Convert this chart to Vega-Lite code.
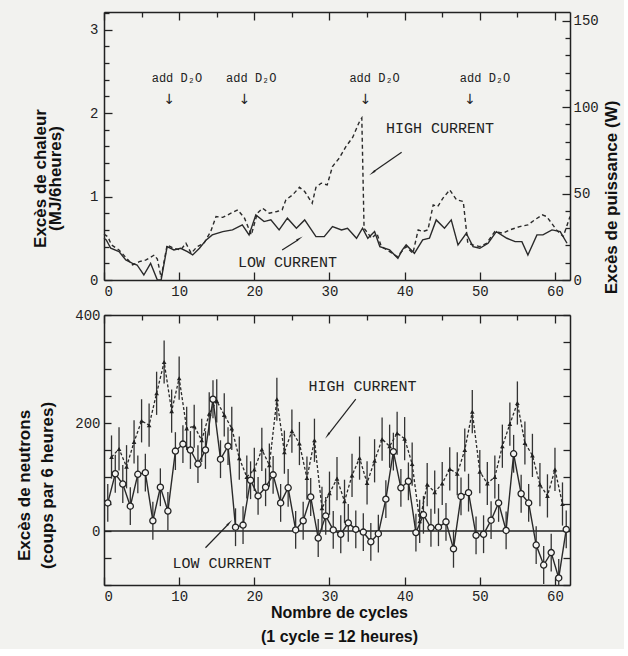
{
  "$schema": "https://vega.github.io/schema/vega-lite/v6.json",
  "background": "#f2f2ef",
  "padding": {"left": 15, "top": 11, "right": 5, "bottom": 5},
  "config": {
    "view": {"stroke": null},
    "axis": {
      "domainColor": "#222", "domainWidth": 1.5, "tickColor": "#222", "tickWidth": 1.3,
      "labelFont": "Liberation Mono", "labelFontSize": 14, "labelColor": "#222", "labelOverlap": false,
      "titleFont": "Liberation Sans", "titleFontSize": 17, "titleFontWeight": "bold", "titleColor": "#111",
      "grid": false
    }
  },
  "datasets": {
    "heatHigh": [
      {"c":0,"v":0.55},{"c":0.5,"v":0.52},{"c":1,"v":0.42},{"c":2,"v":0.36},{"c":3,"v":0.26},{"c":3.8,"v":0.18},{"c":4.7,"v":0.22},{"c":5.6,"v":0.24},{"c":6.7,"v":0.3},{"c":7.1,"v":0.25},{"c":7.6,"v":0.03},{"c":8.4,"v":0.42},{"c":9.3,"v":0.38},{"c":10.2,"v":0.36},{"c":10.9,"v":0.44},{"c":11.6,"v":0.32},{"c":12.4,"v":0.4},{"c":13.3,"v":0.44},{"c":14.2,"v":0.58},{"c":14.9,"v":0.76},{"c":15.8,"v":0.75},{"c":16.9,"v":0.8},{"c":17.8,"v":0.84},{"c":18.7,"v":0.74},{"c":19.6,"v":0.54},{"c":20.4,"v":0.8},{"c":21.1,"v":0.86},{"c":22,"v":0.8},{"c":23,"v":0.82},{"c":23.7,"v":0.84},{"c":24.2,"v":0.96},{"c":25.1,"v":1.02},{"c":26,"v":1.11},{"c":26.7,"v":1.06},{"c":27.7,"v":0.92},{"c":28.2,"v":1.11},{"c":28.9,"v":1.16},{"c":29.7,"v":1.14},{"c":30.4,"v":1.36},{"c":31.3,"v":1.46},{"c":32.2,"v":1.6},{"c":33.1,"v":1.71},{"c":34,"v":1.9},{"c":34.3,"v":1.94},{"c":34.6,"v":0.62},{"c":35.6,"v":0.5},{"c":36.3,"v":0.56},{"c":36.9,"v":0.4},{"c":38,"v":0.34},{"c":39,"v":0.28},{"c":40.2,"v":0.4},{"c":41.1,"v":0.32},{"c":41.8,"v":0.6},{"c":42.4,"v":0.58},{"c":43.1,"v":0.6},{"c":43.8,"v":0.9},{"c":44.4,"v":0.88},{"c":45.1,"v":0.98},{"c":46,"v":1.08},{"c":46.9,"v":0.96},{"c":47.8,"v":0.94},{"c":48.4,"v":0.44},{"c":49.1,"v":0.42},{"c":50,"v":0.4},{"c":50.9,"v":0.44},{"c":52,"v":0.58},{"c":53.1,"v":0.56},{"c":54,"v":0.6},{"c":55.3,"v":0.64},{"c":56.4,"v":0.66},{"c":57.3,"v":0.72},{"c":58.3,"v":0.78},{"c":58.9,"v":0.76},{"c":60.2,"v":0.6},{"c":61.1,"v":0.52},{"c":62,"v":0.76}
    ],
    "heatLow": [
      {"c":0,"v":0.5},{"c":0.3,"v":0.48},{"c":0.9,"v":0.38},{"c":2,"v":0.34},{"c":2.9,"v":0.24},{"c":3.8,"v":0.2},{"c":4.4,"v":0.18},{"c":5.3,"v":0.06},{"c":6.2,"v":0.2},{"c":7.1,"v":0},{"c":7.6,"v":0},{"c":8.4,"v":0.4},{"c":9.3,"v":0.36},{"c":10.2,"v":0.38},{"c":11.1,"v":0.34},{"c":11.8,"v":0.3},{"c":12.7,"v":0.38},{"c":13.6,"v":0.48},{"c":14.4,"v":0.54},{"c":15.8,"v":0.58},{"c":17.1,"v":0.6},{"c":18.4,"v":0.66},{"c":19.3,"v":0.54},{"c":20.2,"v":0.78},{"c":21.3,"v":0.7},{"c":22.2,"v":0.72},{"c":23.3,"v":0.6},{"c":24.4,"v":0.74},{"c":25.6,"v":0.62},{"c":26.7,"v":0.72},{"c":28.2,"v":0.52},{"c":29.3,"v":0.52},{"c":30.4,"v":0.64},{"c":31.6,"v":0.6},{"c":32.4,"v":0.62},{"c":33.6,"v":0.5},{"c":34.4,"v":0.62},{"c":35.1,"v":0.5},{"c":36,"v":0.58},{"c":36.7,"v":0.4},{"c":38,"v":0.36},{"c":39.1,"v":0.26},{"c":39.7,"v":0.36},{"c":40.2,"v":0.42},{"c":41.3,"v":0.32},{"c":42.4,"v":0.48},{"c":43.3,"v":0.5},{"c":44.2,"v":0.72},{"c":45.3,"v":0.62},{"c":46.2,"v":0.72},{"c":47.1,"v":0.42},{"c":48.2,"v":0.56},{"c":49.1,"v":0.4},{"c":50,"v":0.38},{"c":51.1,"v":0.44},{"c":52.2,"v":0.58},{"c":53.6,"v":0.5},{"c":54.7,"v":0.46},{"c":55.6,"v":0.46},{"c":56.4,"v":0.3},{"c":57.6,"v":0.54},{"c":58.4,"v":0.54},{"c":59.6,"v":0.6},{"c":60.7,"v":0.58},{"c":61.6,"v":0.44}
    ],
    "neutLow": [
      {"c":0.5,"v":52,"e":35},{"c":1.5,"v":106,"e":35},{"c":2.5,"v":87,"e":35},{"c":3.5,"v":46,"e":35},{"c":4.5,"v":105,"e":35},{"c":5.5,"v":108,"e":35},{"c":6.5,"v":19,"e":35},{"c":7.5,"v":81,"e":35},{"c":8.5,"v":37,"e":35},{"c":9.5,"v":148,"e":35},{"c":10.5,"v":161,"e":35},{"c":11.5,"v":150,"e":35},{"c":12.5,"v":124,"e":35},{"c":13.5,"v":150,"e":35},{"c":14.5,"v":244,"e":35},{"c":15.5,"v":133,"e":35},{"c":16.5,"v":157,"e":35},{"c":17.5,"v":7,"e":35},{"c":18.5,"v":11,"e":35},{"c":19.5,"v":94,"e":35},{"c":20.5,"v":65,"e":35},{"c":21.5,"v":81,"e":35},{"c":22.5,"v":104,"e":35},{"c":23.5,"v":52,"e":35},{"c":24.5,"v":80,"e":35},{"c":25.5,"v":2,"e":35},{"c":26.5,"v":19,"e":35},{"c":27.5,"v":63,"e":35},{"c":28.5,"v":-13,"e":35},{"c":29.5,"v":28,"e":35},{"c":30.5,"v":2,"e":35},{"c":31.5,"v":-6,"e":35},{"c":32.5,"v":15,"e":35},{"c":33.5,"v":3,"e":35},{"c":34.5,"v":-2,"e":35},{"c":35.5,"v":-20,"e":35},{"c":36.5,"v":-5,"e":35},{"c":37.5,"v":59,"e":35},{"c":38.5,"v":147,"e":35},{"c":39.5,"v":80,"e":35},{"c":40.5,"v":92,"e":35},{"c":41.5,"v":-3,"e":35},{"c":42.5,"v":30,"e":35},{"c":43.5,"v":6,"e":35},{"c":44.5,"v":7,"e":35},{"c":45.5,"v":17,"e":35},{"c":46.5,"v":-33,"e":35},{"c":47.5,"v":64,"e":35},{"c":48.5,"v":71,"e":35},{"c":49.5,"v":-8,"e":35},{"c":50.5,"v":-6,"e":35},{"c":51.5,"v":20,"e":35},{"c":52.5,"v":52,"e":35},{"c":53.5,"v":1,"e":35},{"c":54.5,"v":143,"e":35},{"c":55.5,"v":69,"e":35},{"c":56.5,"v":52,"e":35},{"c":57.5,"v":-26,"e":35},{"c":58.5,"v":-63,"e":35},{"c":59.5,"v":-40,"e":35},{"c":60.5,"v":-87,"e":35},{"c":61.5,"v":3,"e":35}
    ],
    "neutHigh": [
      {"c":1,"v":137,"e":40},{"c":2,"v":152,"e":40},{"c":3,"v":119,"e":40},{"c":4,"v":165,"e":40},{"c":5,"v":204,"e":40},{"c":6,"v":196,"e":40},{"c":7,"v":255,"e":40},{"c":8,"v":313,"e":40},{"c":9,"v":222,"e":40},{"c":10,"v":283,"e":40},{"c":11,"v":190,"e":40},{"c":12,"v":194,"e":40},{"c":13,"v":168,"e":40},{"c":14,"v":217,"e":40},{"c":15,"v":241,"e":40},{"c":16,"v":215,"e":40},{"c":17,"v":190,"e":40},{"c":18,"v":135,"e":40},{"c":19,"v":100,"e":40},{"c":20,"v":114,"e":40},{"c":21,"v":151,"e":40},{"c":22,"v":122,"e":40},{"c":23,"v":244,"e":40},{"c":24,"v":146,"e":40},{"c":25,"v":185,"e":40},{"c":26,"v":162,"e":40},{"c":27,"v":98,"e":40},{"c":28,"v":168,"e":40},{"c":29,"v":42,"e":40},{"c":30,"v":70,"e":40},{"c":31,"v":97,"e":40},{"c":32,"v":55,"e":40},{"c":33,"v":103,"e":40},{"c":34,"v":135,"e":40},{"c":35,"v":89,"e":40},{"c":36,"v":130,"e":40},{"c":37,"v":170,"e":40},{"c":38,"v":157,"e":40},{"c":39,"v":181,"e":40},{"c":40,"v":171,"e":40},{"c":41,"v":124,"e":40},{"c":42,"v":18,"e":40},{"c":43,"v":86,"e":40},{"c":44,"v":72,"e":40},{"c":45,"v":88,"e":40},{"c":46,"v":115,"e":40},{"c":47,"v":106,"e":40},{"c":48,"v":150,"e":40},{"c":49,"v":221,"e":40},{"c":50,"v":110,"e":40},{"c":51,"v":88,"e":40},{"c":52,"v":100,"e":40},{"c":53,"v":157,"e":40},{"c":54,"v":198,"e":40},{"c":55,"v":237,"e":40},{"c":56,"v":163,"e":40},{"c":57,"v":140,"e":40},{"c":58,"v":86,"e":40},{"c":59,"v":65,"e":40},{"c":60,"v":114,"e":40},{"c":61,"v":50,"e":40}
    ]
  },
  "spacing": 10,
  "vconcat": [
    {
      "width": 466,
      "height": 268,
      "resolve": {"scale": {"y": "independent"}, "axis": {"x": "independent", "y": "independent"}},
      "layer": [
        {
          "layer": [
            {
              "data": {"name": "heatHigh"},
              "mark": {"type": "line", "color": "#2a2a2a", "strokeWidth": 1.4, "strokeDash": [4, 3]},
              "encoding": {
                "x": {"field": "c", "type": "quantitative", "scale": {"domain": [0, 62], "nice": false},
                  "axis": {"orient": "bottom", "title": null, "values": [0,5,10,15,20,25,30,35,40,45,50,55,60],
                    "labelExpr": "datum.value % 10 === 0 ? datum.label : ''", "labelOverlap": false,
                    "tickSize": {"condition": {"test": "datum.value % 10 === 0", "value": -8}, "value": -5},
                    "labelPadding": 12}},
                "y": {"field": "v", "type": "quantitative", "scale": {"domain": [0, 3.21], "nice": false, "zero": false},
                  "axis": {"orient": "left", "title": ["Excès de chaleur", "(MJ/6heures)"],
                    "values": [0, 1, 2, 3], "format": "d", "labelOverlap": false, "labelBound": false, "labelFlush": false,
                    "tickSize": -8, "labelPadding": 14, "titleX": -64, "titleY": 166, "titleAngle": -90,
                    "titleBaseline": "middle", "titleAlign": "center", "titleLineHeight": 15}}
              }
            },
            {
              "data": {"name": "heatLow"},
              "mark": {"type": "line", "color": "#2a2a2a", "strokeWidth": 1.4},
              "encoding": {
                "x": {"field": "c", "type": "quantitative"},
                "y": {"field": "v", "type": "quantitative"}
              }
            },
            {
              "data": {"values": [
                {"c": 9.7, "v": 2.42, "t": "add D₂O"}, {"c": 19.6, "v": 2.42, "t": "add D₂O"},
                {"c": 36, "v": 2.42, "t": "add D₂O"}, {"c": 50.7, "v": 2.42, "t": "add D₂O"}
              ]},
              "mark": {"type": "text", "font": "Liberation Mono", "fontSize": 12, "color": "#222"},
              "encoding": {"x": {"field": "c", "type": "quantitative"}, "y": {"field": "v", "type": "quantitative"}, "text": {"field": "t"}}
            },
            {
              "data": {"values": [{"c": 8.7, "v": 2.16}, {"c": 18.7, "v": 2.16}, {"c": 34.8, "v": 2.16}, {"c": 48.7, "v": 2.16}]},
              "mark": {"type": "text", "text": "↓", "font": "DejaVu Sans", "fontSize": 14, "color": "#222"},
              "encoding": {"x": {"field": "c", "type": "quantitative"}, "y": {"field": "v", "type": "quantitative"}}
            },
            {
              "data": {"values": [{"c": 44.7, "v": 1.82, "t": "HIGH CURRENT"}, {"c": 24.4, "v": 0.22, "t": "LOW CURRENT"}]},
              "mark": {"type": "text", "font": "Liberation Mono", "fontSize": 15, "color": "#222"},
              "encoding": {"x": {"field": "c", "type": "quantitative"}, "y": {"field": "v", "type": "quantitative"}, "text": {"field": "t"}}
            },
            {
              "data": {"values": [{"c": 39.6, "v": 1.53, "c2": 35.9, "v2": 1.3}, {"c": 23.7, "v": 0.36, "c2": 25.8, "v2": 0.48}]},
              "mark": {"type": "rule", "color": "#222", "strokeWidth": 1.2},
              "encoding": {"x": {"field": "c", "type": "quantitative"}, "y": {"field": "v", "type": "quantitative"}, "x2": {"field": "c2"}, "y2": {"field": "v2"}}
            },
            {
              "data": {"values": [{"c": 35.8, "v": 1.29}]},
              "mark": {"type": "point", "shape": "wedge", "angle": 234, "size": 70, "filled": true, "color": "#222", "opacity": 1},
              "encoding": {"x": {"field": "c", "type": "quantitative"}, "y": {"field": "v", "type": "quantitative"}}
            },
            {
              "data": {"values": [{"c": 25.9, "v": 0.49}]},
              "mark": {"type": "point", "shape": "wedge", "angle": 57, "size": 70, "filled": true, "color": "#222", "opacity": 1},
              "encoding": {"x": {"field": "c", "type": "quantitative"}, "y": {"field": "v", "type": "quantitative"}}
            }
          ]
        },
        {
          "data": {"values": [{"c": 0, "w": 0}]},
          "mark": {"type": "point", "opacity": 0},
          "encoding": {
            "x": {"field": "c", "type": "quantitative", "scale": {"domain": [0, 62], "nice": false},
              "axis": {"orient": "top", "title": null, "labels": false, "values": [0,5,10,15,20,25,30,35,40,45,50,55,60],
                "tickSize": {"condition": {"test": "datum.value % 10 === 0", "value": -8}, "value": -5}}},
            "y": {"field": "w", "type": "quantitative", "scale": {"domain": [0, 155], "nice": false},
              "axis": {"orient": "right", "title": "Excès de puissance (W)",
                "values": [0,10,20,30,40,50,60,70,80,90,100,110,120,130,140,150],
                "labelExpr": "datum.value % 50 === 0 ? datum.label : ''", "labelOverlap": false,
                "tickSize": {"condition": {"test": "datum.value % 50 === 0", "value": -8}, "value": -5},
                "labelPadding": 11, "titleX": 41, "titleY": 185, "titleAngle": -90, "titleBaseline": "middle", "titleAlign": "center"}}
          }
        },
        {
          "data": {"values": [{"c": 0, "m": 0}]},
          "mark": {"type": "point", "opacity": 0},
          "encoding": {
            "x": {"field": "c", "type": "quantitative", "axis": null},
            "y": {"field": "m", "type": "quantitative", "scale": {"domain": [0, 3.21], "nice": false, "zero": false},
              "axis": {"orient": "left", "title": null, "labels": false, "domain": false,
                "values": [0.2,0.4,0.6,0.8,1.2,1.4,1.6,1.8,2.2,2.4,2.6,2.8,3.2], "tickSize": -5}}
          }
        }
      ]
    },
    {
      "width": 466,
      "height": 270,
      "resolve": {"axis": {"x": "independent", "y": "independent"}},
      "layer": [
        {
          "layer": [
            {
              "data": {"values": [{"v": 0}]},
              "mark": {"type": "rule", "color": "#222", "strokeWidth": 1.5},
              "encoding": {"y": {"field": "v", "type": "quantitative",
                "scale": {"domain": [-100, 400], "nice": false, "zero": false}, "axis": null}}
            },
            {
              "data": {"name": "neutHigh"},
              "mark": {"type": "errorbar", "ticks": false, "thickness": 1.3, "color": "#333", "clip": true},
              "encoding": {
                "x": {"field": "c", "type": "quantitative", "scale": {"domain": [0, 62], "nice": false},
                  "axis": {"orient": "bottom", "title": ["Nombre de cycles", "(1 cycle = 12 heures)"],
                    "values": [0,5,10,15,20,25,30,35,40,45,50,55,60],
                    "labelExpr": "datum.value % 10 === 0 ? datum.label : ''", "labelOverlap": false,
                    "tickSize": {"condition": {"test": "datum.value % 10 === 0", "value": -8}, "value": -5},
                    "labelPadding": 12, "titleX": 235, "titleY": 27, "titleBaseline": "middle", "titleAlign": "center",
                    "titleLineHeight": 24, "titleFontSize": 16}},
                "y": {"field": "v", "type": "quantitative", "axis": null},
                "yError": {"field": "e"}
              }
            },
            {
              "data": {"name": "neutLow"},
              "mark": {"type": "errorbar", "ticks": false, "thickness": 1.3, "color": "#333", "clip": true},
              "encoding": {
                "x": {"field": "c", "type": "quantitative"},
                "y": {"field": "v", "type": "quantitative", "axis": null},
                "yError": {"field": "e"}
              }
            },
            {
              "data": {"name": "neutHigh"},
              "mark": {"type": "line", "color": "#2a2a2a", "strokeWidth": 1.3, "strokeDash": [3, 2]},
              "encoding": {"x": {"field": "c", "type": "quantitative"}, "y": {"field": "v", "type": "quantitative", "axis": null}}
            },
            {
              "data": {"name": "neutLow"},
              "mark": {"type": "line", "color": "#2a2a2a", "strokeWidth": 1.4},
              "encoding": {"x": {"field": "c", "type": "quantitative"}, "y": {"field": "v", "type": "quantitative", "axis": null}}
            },
            {
              "data": {"name": "neutHigh"},
              "mark": {"type": "point", "shape": "triangle-up", "size": 22, "filled": true, "color": "#222", "opacity": 1},
              "encoding": {"x": {"field": "c", "type": "quantitative"}, "y": {"field": "v", "type": "quantitative", "axis": null}}
            },
            {
              "data": {"name": "neutLow"},
              "mark": {"type": "point", "shape": "circle", "size": 38, "filled": true, "fill": "#f4f4f2", "stroke": "#222", "strokeWidth": 1.3, "opacity": 1},
              "encoding": {"x": {"field": "c", "type": "quantitative"}, "y": {"field": "v", "type": "quantitative", "axis": null}}
            },
            {
              "data": {"values": [{"c": 34.4, "v": 269, "t": "HIGH CURRENT"}, {"c": 15.7, "v": -59, "t": "LOW CURRENT"}]},
              "mark": {"type": "text", "font": "Liberation Mono", "fontSize": 15, "color": "#222"},
              "encoding": {"x": {"field": "c", "type": "quantitative"}, "y": {"field": "v", "type": "quantitative", "axis": null}, "text": {"field": "t"}}
            },
            {
              "data": {"values": [{"c": 33.5, "v": 244, "c2": 29.9, "v2": 180}, {"c": 13.5, "v": -31, "c2": 16.5, "v2": 12}]},
              "mark": {"type": "rule", "color": "#222", "strokeWidth": 1.2},
              "encoding": {"x": {"field": "c", "type": "quantitative"}, "y": {"field": "v", "type": "quantitative", "axis": null}, "x2": {"field": "c2"}, "y2": {"field": "v2"}}
            },
            {
              "data": {"values": [{"c": 29.8, "v": 178}]},
              "mark": {"type": "point", "shape": "wedge", "angle": 217, "size": 70, "filled": true, "color": "#222", "opacity": 1},
              "encoding": {"x": {"field": "c", "type": "quantitative"}, "y": {"field": "v", "type": "quantitative", "axis": null}}
            },
            {
              "data": {"values": [{"c": 16.6, "v": 14}]},
              "mark": {"type": "point", "shape": "wedge", "angle": 44, "size": 70, "filled": true, "color": "#222", "opacity": 1},
              "encoding": {"x": {"field": "c", "type": "quantitative"}, "y": {"field": "v", "type": "quantitative", "axis": null}}
            }
          ]
        },
        {
          "data": {"values": [{"c": 0, "v": 0}]},
          "mark": {"type": "point", "opacity": 0},
          "encoding": {
            "x": {"field": "c", "type": "quantitative", "scale": {"domain": [0, 62], "nice": false},
              "axis": {"orient": "top", "title": null, "labels": false, "values": [0,5,10,15,20,25,30,35,40,45,50,55,60],
                "tickSize": {"condition": {"test": "datum.value % 10 === 0", "value": -8}, "value": -5}}},
            "y": {"field": "v", "type": "quantitative", "scale": {"domain": [-100, 400], "nice": false, "zero": false},
              "axis": {"orient": "left", "title": ["Excès de neutrons", "(coups par 6 heures)"],
                "values": [-100,-50,0,50,100,150,200,250,300,350,400],
                "labelExpr": "datum.value % 200 === 0 && datum.value >= 0 ? datum.label : ''", "labelOverlap": false,
                "tickSize": -7, "labelPadding": 11,
                "titleX": -80, "titleY": 170, "titleAngle": -90, "titleBaseline": "middle", "titleAlign": "center", "titleLineHeight": 23}}
          }
        },
        {
          "data": {"values": [{"c": 0, "v": 0}]},
          "mark": {"type": "point", "opacity": 0},
          "encoding": {
            "x": {"field": "c", "type": "quantitative", "axis": null},
            "y": {"field": "v", "type": "quantitative",
              "axis": {"orient": "right", "title": null, "labels": false, "values": [-100,-50,0,50,100,150,200,250,300,350,400], "tickSize": -7}}
          }
        }
      ]
    }
  ]
}
